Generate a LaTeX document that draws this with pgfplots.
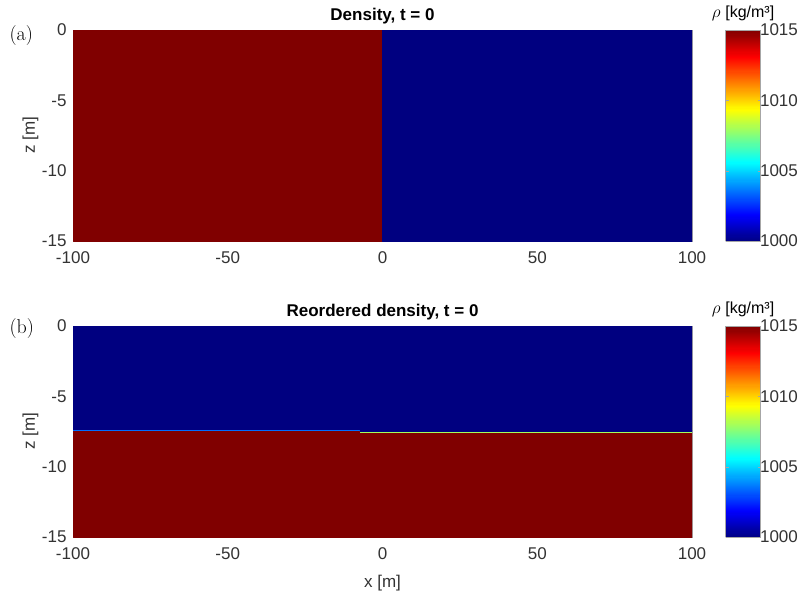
\documentclass[border=0pt]{standalone}
\usepackage{fontspec}
\usepackage{pgfplots}
\pgfplotsset{compat=1.18}
\newfontfamily\arial{Liberation Sans}
\pgfplotstableread{
x y c
-100 -15 1015
0 -15 1015
0 0 1015
-100 0 1015
0 -15 1000
100 -15 1000
100 0 1000
0 0 1000
}\tabA
\pgfplotstableread{
x y c
-100 -7.40 1000
100 -7.40 1000
100 0 1000
-100 0 1000
-7.6 -7.55 1000
100 -7.55 1000
100 -7.40 1000
-7.6 -7.40 1000
-100 -7.48 1003.5
-7.6 -7.48 1003.5
-7.6 -7.40 1003.5
-100 -7.40 1003.5
-7.6 -7.62 1008
100 -7.62 1008
100 -7.55 1008
-7.6 -7.55 1008
-100 -15 1015
-7.6 -15 1015
-7.6 -7.48 1015
-100 -7.48 1015
-7.6 -15 1015
100 -15 1015
100 -7.62 1015
-7.6 -7.62 1015
}\tabB
\begin{document}
\begin{tikzpicture}
\useasboundingbox (0pt,0pt) rectangle (805pt,-597pt);
\pgfplotsset{
  myax/.style={
    scale only axis, width=619pt, height=211pt,
    xmin=-100, xmax=100, ymin=-15, ymax=0,
    xtick={-100,-50,0,50,100}, ytick={-15,-10,-5,0},
    tick align=inside, major tick length=4pt,
    axis line style={gray!70, line width=0.5pt},
    tick style={gray!70, line width=0.5pt},
    /pgf/number format/assume math mode=true,
    ticklabel style={font=\arial\fontsize{17}{20}\selectfont, text=black!80},
    xticklabel style={yshift=-7pt},
    yticklabel style={xshift=-3pt},
    label style={font=\arial\fontsize{17}{20}\selectfont, text=black!80},
    title style={font=\arial\bfseries\fontsize{17}{20}\selectfont, yshift=-4pt},
    ylabel={z [m]},
    ylabel style={at={(axis description cs:-0.05,0.5)}},
    colormap/jet, point meta min=1000, point meta max=1015,
    colorbar sampled,
    colorbar style={
      at={(parent axis.north east)}, anchor=north west, xshift=25pt,
      width=35pt, samples=200,
      ytick={1000,1005,1010,1015},
      /pgf/number format/set thousands separator={},
      /pgf/number format/assume math mode=true,
      yticklabel style={font=\arial\fontsize{17}{20}\selectfont, text=black!80, xshift=-4pt},
      tick align=inside, major tick length=3pt,
      axis line style={gray!70}, tick style={gray!70},
      title={$\rho$ {\arial [kg/m³]}},
      title style={font=\fontsize{16}{19}\selectfont, yshift=0pt},
    },
  }
}
\begin{axis}[myax, at={(73pt,-241pt)}, anchor=south west, title={Density, t = 0}]
\addplot[patch, patch type=rectangle, shader=flat, point meta=\thisrow{c}] table[x=x,y=y] {\tabA};
\end{axis}
\begin{axis}[myax, at={(73pt,-537pt)}, anchor=south west, title={Reordered density, t = 0}, xlabel={x [m]}, xlabel style={yshift=-9pt}]
\addplot[patch, patch type=rectangle, shader=flat, point meta=\thisrow{c}] table[x=x,y=y] {\tabB};
\end{axis}
\node[font=\fontsize{20}{23}\selectfont, anchor=west] at (6pt,-36pt) {(a)};
\node[font=\fontsize{20}{23}\selectfont, anchor=west] at (6pt,-329pt) {(b)};
\end{tikzpicture}
\end{document}
